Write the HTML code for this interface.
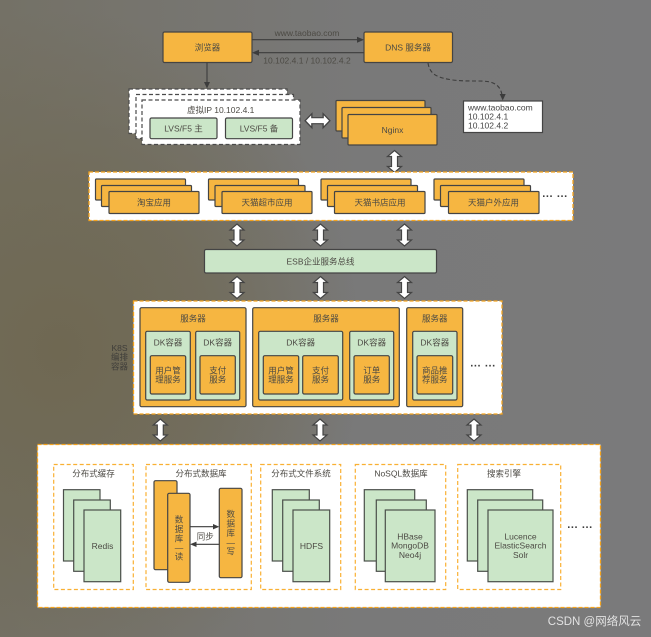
<!DOCTYPE html>
<html><head><meta charset="utf-8">
<style>
html,body{margin:0;padding:0;width:651px;height:637px;overflow:hidden;background:#797979}
#bg{position:absolute;left:0;top:0;width:651px;height:637px;background:radial-gradient(ellipse 300px 340px at 60px 350px,#6f6852 0%,rgba(112,106,86,.75) 50%,rgba(120,120,120,0) 100%),linear-gradient(90deg,#747166 0%,#797979 55%,#7a7a7b 100%)}
svg{position:absolute;left:0;top:0;filter:blur(.35px)}
text{font-family:"Liberation Sans","Noto Sans CJK SC",sans-serif;font-size:8.5px;fill:#4c4a44;text-anchor:middle;dominant-baseline:central}
.o{fill:#f6b641;stroke:#444;stroke-width:1.2}
.g{fill:#cbe6c8;stroke:#444;stroke-width:1.2}
.gs{fill:#cbe6c8;stroke:#4a4f4a;stroke-width:1.2}
.w{fill:#fff;stroke:#f5a31c;stroke-width:1.3;stroke-dasharray:4 2}
.d{fill:none;stroke:#f9b033;stroke-width:1.2;stroke-dasharray:4 2.5}
.wd{fill:#fff;stroke:#4a4a4a;stroke-width:1.2;stroke-dasharray:4 2.5}
.l{stroke:#3c3c3c;stroke-width:1.1;fill:none}
.h{fill:#3c3c3c;stroke:none}
.dbl{fill:#fff;stroke:#444;stroke-width:1.2;stroke-linejoin:miter}
.e{font-size:11px;font-weight:bold;fill:#3c3c3c;letter-spacing:.6px}
</style></head><body>
<div id="bg"></div>
<svg width="651" height="637" viewBox="0 0 651 637" xmlns="http://www.w3.org/2000/svg">
<defs>
<polygon id="da" class="dbl" points="0,-11 7,-5 3,-5 3,5 7,5 0,11 -7,5 -3,5 -3,-5 -7,-5"/>
</defs>

<!-- top row -->
<rect class="o" x="163" y="32" width="89" height="30.500" rx="1.500"/>
<text x="207.500" y="47.500">浏览器</text>
<rect class="o" x="364" y="32" width="88.500" height="30.500" rx="1.500"/>
<text x="408" y="47.500">DNS 服务器</text>
<path class="l" d="M252 39.700H358"/><polygon class="h" points="364,39.700 357,36.700 357,42.700"/>
<path class="l" d="M364 52.700H258"/><polygon class="h" points="252,52.700 259,49.700 259,55.700"/>
<text x="307" y="33">www.taobao.com</text>
<text x="307" y="60.700">10.102.4.1 / 10.102.4.2</text>
<path class="l" d="M207 62.500V83"/><polygon class="h" points="207,88.500 204,82 210,82"/>

<!-- dns note -->
<path d="M428 63C430 76 440 78 453 80C470 82 482 80 490 82C498 84 501 89 502 95" fill="none" stroke="#3c3c3c" stroke-width="1.100" stroke-dasharray="4 2.500"/>
<polygon class="h" points="502.700,100.500 499.700,94 505.700,94"/>
<rect x="463.500" y="101" width="79" height="31.500" fill="#fff" stroke="#444" stroke-width="1.200"/>
<text x="468" y="107.500" style="text-anchor:start;fill:#444">www.taobao.com</text>
<text x="468" y="116.500" style="text-anchor:start;fill:#444">10.102.4.1</text>
<text x="468" y="125.500" style="text-anchor:start;fill:#444">10.102.4.2</text>

<!-- LVS -->
<rect class="wd" x="129" y="89" width="158" height="44.500"/>
<rect class="wd" x="136" y="94.500" width="157.500" height="44"/>
<rect class="wd" x="142" y="100" width="158" height="44.500"/>
<text x="220.700" y="110">虚拟IP 10.102.4.1</text>
<rect class="g" x="150" y="118" width="67" height="20.700" rx="1.500"/>
<text x="183.500" y="128.500">LVS/F5 主</text>
<rect class="g" x="225.500" y="118" width="67" height="20.700" rx="1.500"/>
<text x="259" y="128.500">LVS/F5 备</text>

<use href="#da" transform="translate(317.500 120.700) rotate(90) scale(1,1.130)"/>

<!-- nginx -->
<rect class="o" x="336" y="100.500" width="89" height="30.500" rx="1"/>
<rect class="o" x="342" y="107.500" width="89" height="30.500" rx="1"/>
<rect class="o" x="348" y="114.500" width="89" height="30.500" rx="1"/>
<text x="392.500" y="130">Nginx</text>
<use href="#da" transform="translate(394.500 161.500)"/>

<!-- apps -->
<rect class="w" x="89" y="172" width="484" height="48.500"/>
<rect class="o" x="95.500" y="179" width="90" height="21" rx="1"/>
<rect class="o" x="101.500" y="185.500" width="90" height="21" rx="1"/>
<rect class="o" x="109" y="191.500" width="90" height="22" rx="1"/>
<text x="154" y="202.500">淘宝应用</text>
<rect class="o" x="208.500" y="179" width="90" height="21" rx="1"/>
<rect class="o" x="215" y="185.500" width="90" height="21" rx="1"/>
<rect class="o" x="222" y="191.500" width="90" height="22" rx="1"/>
<text x="267" y="202.500">天猫超市应用</text>
<rect class="o" x="321" y="179" width="90" height="21" rx="1"/>
<rect class="o" x="327.500" y="185.500" width="90" height="21" rx="1"/>
<rect class="o" x="334.500" y="191.500" width="90.500" height="22" rx="1"/>
<text x="380" y="202.500">天猫书店应用</text>
<rect class="o" x="434" y="179" width="90" height="21" rx="1"/>
<rect class="o" x="440.500" y="185.500" width="90" height="21" rx="1"/>
<rect class="o" x="448.500" y="191.500" width="90.500" height="22" rx="1"/>
<text x="493.500" y="202.500">天猫户外应用</text>
<text class="e" x="555" y="194">... ...</text>

<use href="#da" transform="translate(237 235)"/>
<use href="#da" transform="translate(320.500 235)"/>
<use href="#da" transform="translate(404.500 235)"/>

<rect class="g" x="204.500" y="249.500" width="232" height="23.500" rx="1.500"/>
<text x="320.500" y="261.500">ESB企业服务总线</text>

<use href="#da" transform="translate(237 287.500)"/>
<use href="#da" transform="translate(320.500 287.500)"/>
<use href="#da" transform="translate(404.500 287.500)"/>

<!-- k8s -->
<text x="119.500" y="348" style="fill:#3f3e3a">K8S</text>
<text x="119.500" y="357" style="fill:#3f3e3a">编排</text>
<text x="119.500" y="366.500" style="fill:#3f3e3a">容器</text>
<rect class="w" x="133.500" y="301" width="368.500" height="113"/>
<rect class="o" x="140" y="307.700" width="106" height="99" rx="1.500"/>
<rect class="o" x="252.700" y="307.700" width="146.600" height="99" rx="1.500"/>
<rect class="o" x="406.700" y="307.700" width="56" height="99" rx="1.500"/>
<text x="193" y="318.700">服务器</text>
<text x="326" y="318.700">服务器</text>
<text x="434.700" y="318.700">服务器</text>

<rect class="g" x="145.700" y="331.300" width="44.600" height="68.700" rx="1.500"/>
<rect class="g" x="195.700" y="331.300" width="44" height="68.700" rx="1.500"/>
<rect class="g" x="258.700" y="331.300" width="84" height="68.700" rx="1.500"/>
<rect class="g" x="349.700" y="331.300" width="44" height="68.700" rx="1.500"/>
<rect class="g" x="412.700" y="331.300" width="44.300" height="68.700" rx="1.500"/>
<text x="168" y="342.700">DK容器</text>
<text x="217.700" y="342.700">DK容器</text>
<text x="300.700" y="342.700">DK容器</text>
<text x="371.700" y="342.700">DK容器</text>
<text x="434.800" y="342.700">DK容器</text>

<rect class="o" x="150.300" y="355.700" width="35.400" height="38.300" rx="1.500"/>
<rect class="o" x="200" y="355.700" width="35.300" height="38.300" rx="1.500"/>
<rect class="o" x="263.300" y="355.700" width="35.400" height="38.300" rx="1.500"/>
<rect class="o" x="302.700" y="355.700" width="35.600" height="38.300" rx="1.500"/>
<rect class="o" x="354" y="355.700" width="35.300" height="38.300" rx="1.500"/>
<rect class="o" x="417" y="355.700" width="35.700" height="38.300" rx="1.500"/>
<text x="168" y="370.500">用户管</text><text x="168" y="379.500">理服务</text>
<text x="217.700" y="370.500">支付</text><text x="217.700" y="379.500">服务</text>
<text x="281" y="370.500">用户管</text><text x="281" y="379.500">理服务</text>
<text x="320.500" y="370.500">支付</text><text x="320.500" y="379.500">服务</text>
<text x="371.700" y="370.500">订单</text><text x="371.700" y="379.500">服务</text>
<text x="434.800" y="370.500">商品推</text><text x="434.800" y="379.500">荐服务</text>
<text class="e" x="483" y="363.500">... ...</text>

<use href="#da" transform="translate(160.300 430)"/>
<use href="#da" transform="translate(320 430)"/>
<use href="#da" transform="translate(474 430)"/>

<!-- storage -->
<rect class="w" x="37.500" y="444.500" width="563" height="163"/>
<rect class="d" x="53.700" y="464.500" width="79.600" height="125"/>
<rect class="d" x="146" y="464.500" width="105.300" height="125"/>
<rect class="d" x="260.700" y="464.500" width="80" height="125"/>
<rect class="d" x="355.300" y="464.500" width="90.400" height="125"/>
<rect class="d" x="457.700" y="464.500" width="103" height="125"/>
<text x="93.500" y="473.300">分布式缓存</text>
<text x="201" y="473.300">分布式数据库</text>
<text x="301" y="473.300">分布式文件系统</text>
<text x="401" y="473.300">NoSQL数据库</text>
<text x="504" y="473.300">搜索引擎</text>

<rect class="gs" x="63.500" y="489.700" width="36.500" height="71.300"/>
<rect class="gs" x="73.700" y="500" width="36.600" height="71.300"/>
<rect class="gs" x="84" y="510" width="36.700" height="71.700"/>
<text x="102.500" y="546">Redis</text>

<rect class="o" x="154" y="480.700" width="23" height="89" rx="1.500"/>
<rect class="o" x="167.700" y="493.300" width="22.300" height="89" rx="1.500"/>
<rect class="o" x="219.300" y="488.300" width="22.700" height="89.400" rx="1.500"/>
<text x="179" y="519.300">数</text><text x="179" y="529">据</text><text x="179" y="538.700">库</text><text x="179" y="547.500">—</text><text x="179" y="556.700">读</text>
<text x="230.700" y="514">数</text><text x="230.700" y="523.500">据</text><text x="230.700" y="533">库</text><text x="230.700" y="542.500">—</text><text x="230.700" y="551.700">写</text>
<path class="l" d="M190 526.700H214"/><polygon class="h" points="219.300,526.700 213,524 213,529.400"/>
<path class="l" d="M219.300 544.300H195"/><polygon class="h" points="190,544.300 196.500,541.600 196.500,547"/>
<text x="205.300" y="536.300">同步</text>

<rect class="gs" x="272.300" y="489.700" width="37" height="71.300"/>
<rect class="gs" x="282.700" y="500" width="36.600" height="71.300"/>
<rect class="gs" x="293" y="510" width="36.700" height="71.700"/>
<text x="311.500" y="546">HDFS</text>

<rect class="gs" x="364.300" y="489.700" width="50.400" height="71.300"/>
<rect class="gs" x="376.300" y="500" width="50" height="71.300"/>
<rect class="gs" x="385.300" y="510" width="49.700" height="71.700"/>
<text x="410" y="536.700">HBase</text><text x="410" y="545.700">MongoDB</text><text x="410" y="555">Neo4j</text>

<rect class="gs" x="467.300" y="489.700" width="65.400" height="71.300"/>
<rect class="gs" x="477.700" y="500" width="65" height="71.300"/>
<rect class="gs" x="488" y="510" width="65" height="71.700"/>
<text x="520.500" y="536.700">Lucence</text><text x="520.500" y="545.700">ElasticSearch</text><text x="520.500" y="555">Solr</text>
<text class="e" x="580" y="525">... ...</text>

<text x="594.500" y="622" style="font-size:11.500px;fill:#e2e2e2">CSDN @网络风云</text>
</svg>
</body></html>
